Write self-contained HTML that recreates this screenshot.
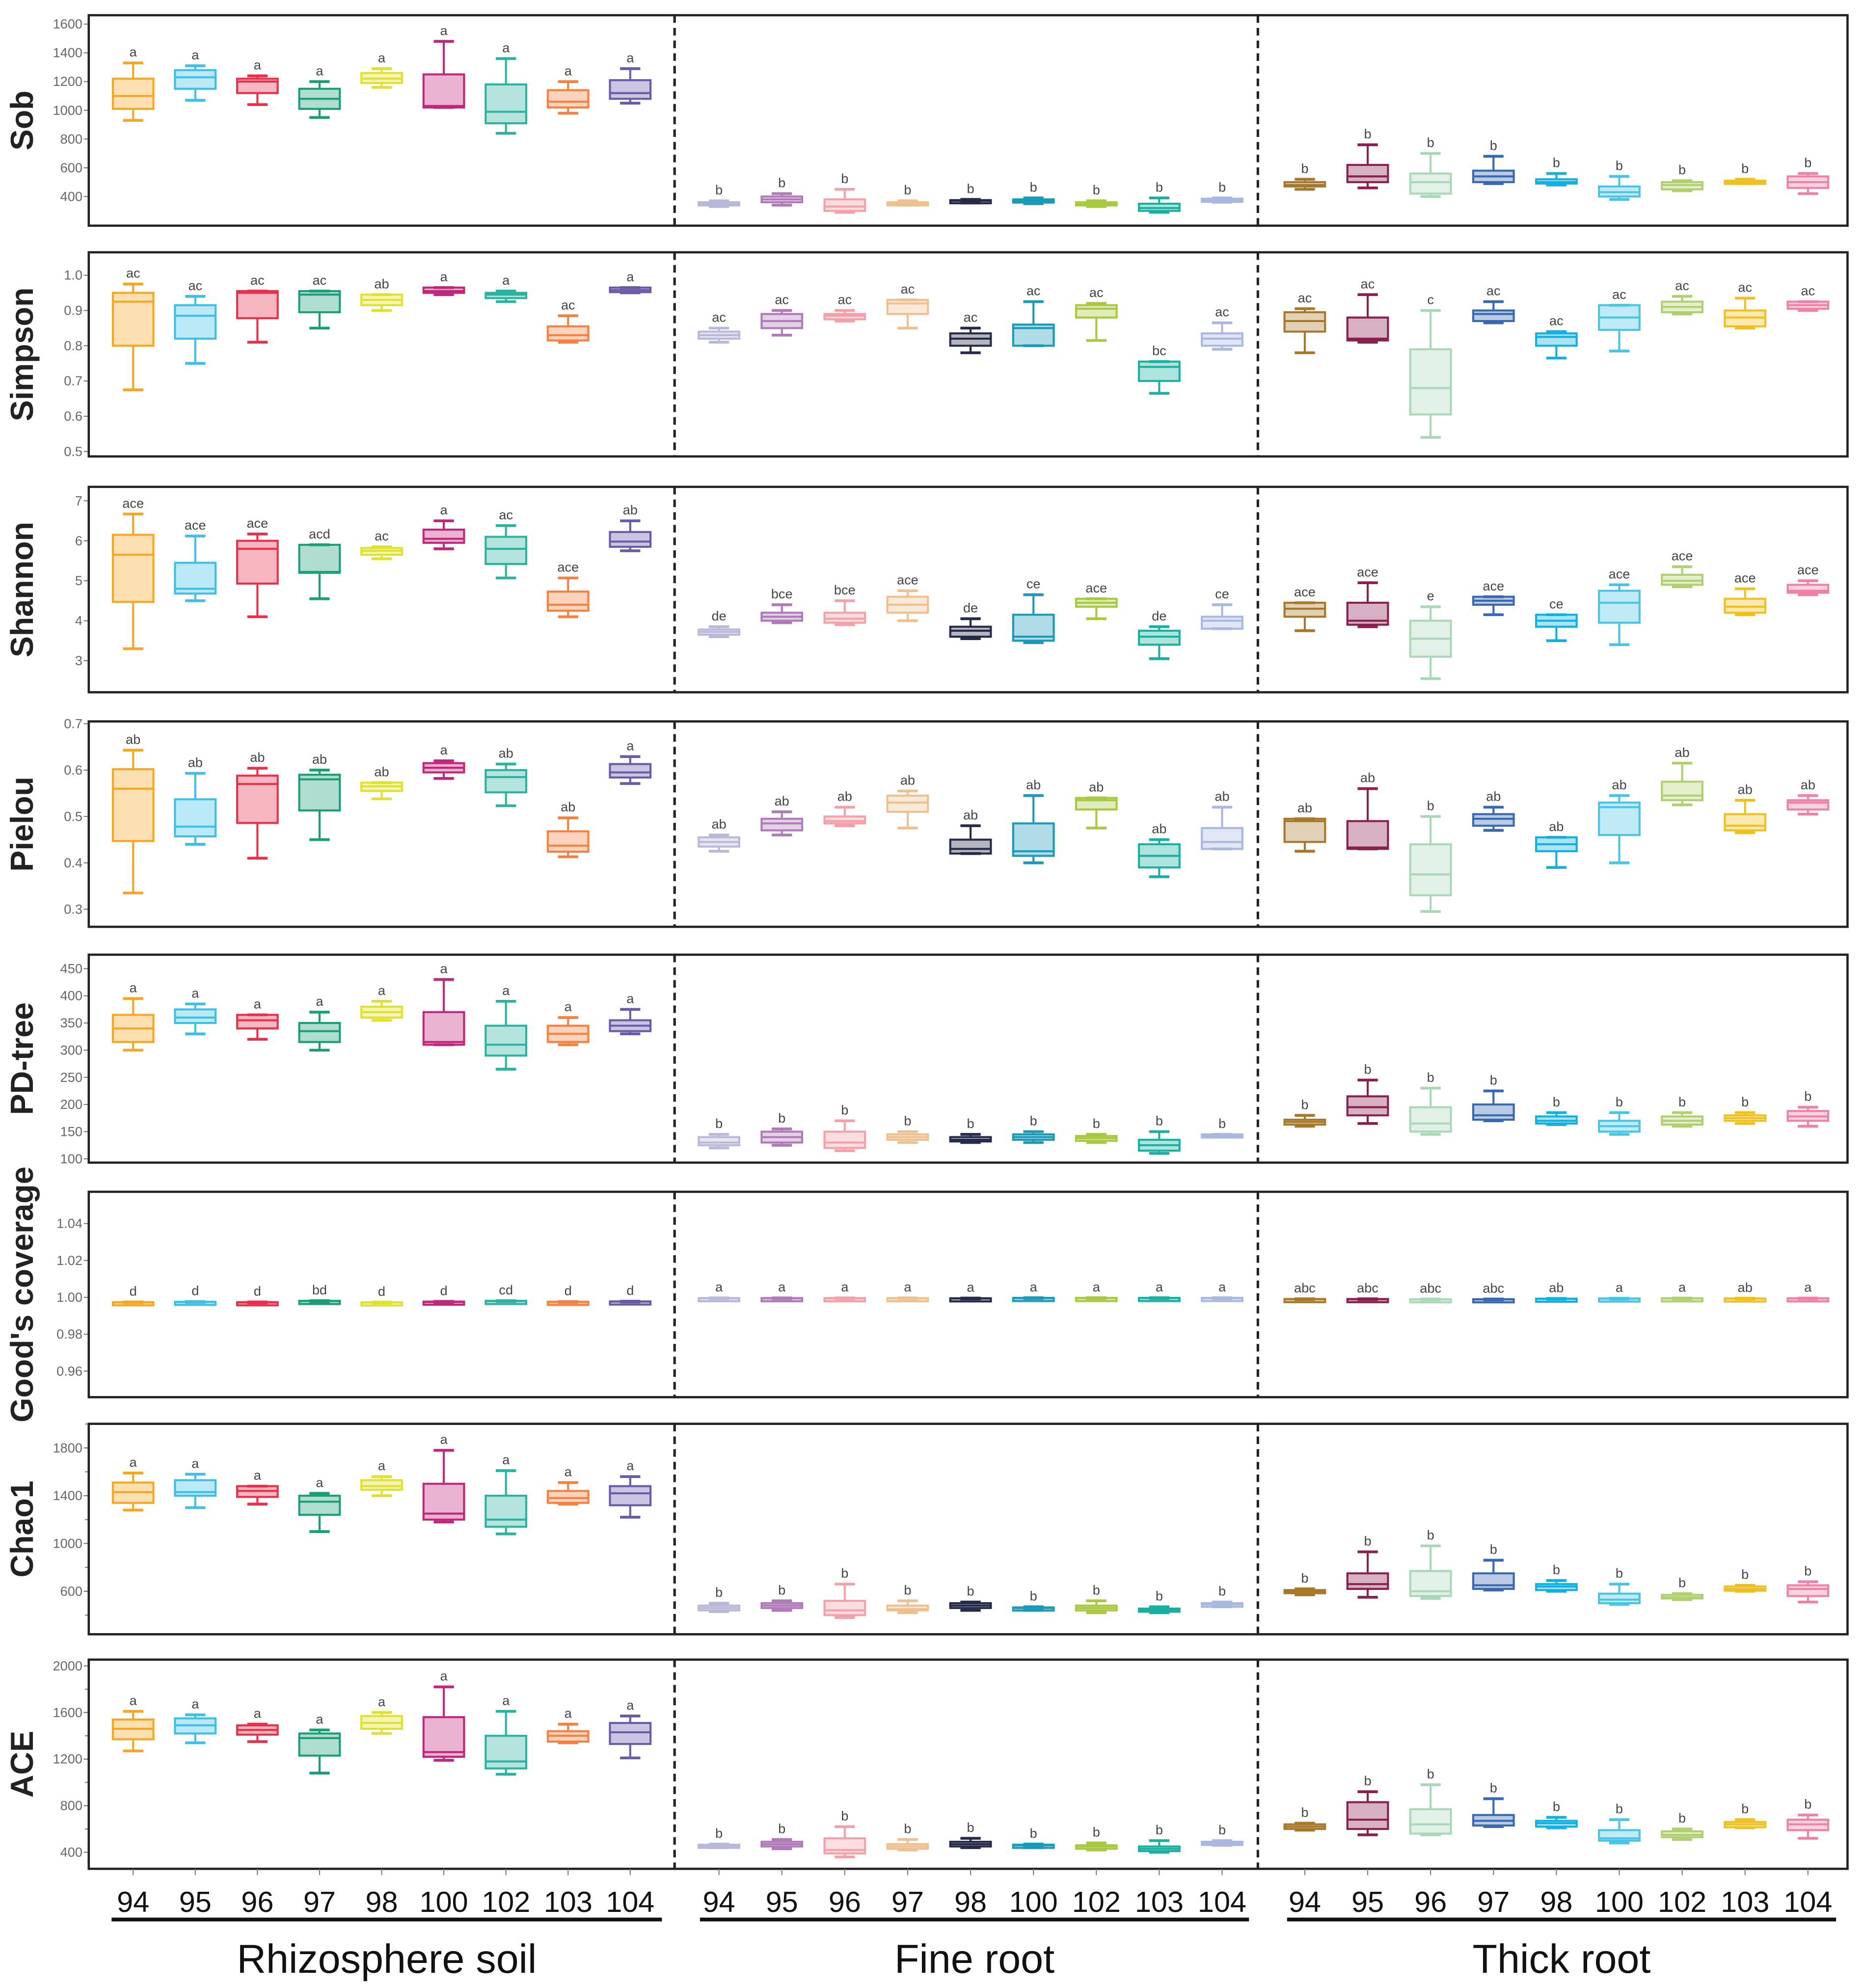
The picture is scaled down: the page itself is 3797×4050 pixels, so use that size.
<!DOCTYPE html>
<html><head><meta charset="utf-8"><title>Alpha diversity boxplots</title>
<style>
html,body{margin:0;padding:0;background:#fff;}
svg{display:block;}
text{font-family:"Liberation Sans",Arial,sans-serif;}
</style></head>
<body>
<svg id="chart" xmlns="http://www.w3.org/2000/svg" width="3797" height="4050" viewBox="0 0 1470 1568" preserveAspectRatio="none"></svg>
<script>
// ---- data ----
const groupNames = ["Rhizosphere soil","Fine root","Thick root"];
const samples = ["94","95","96","97","98","100","102","103","104"];
const metricNames = ["Sob","Simpson","Shannon","Pielou","PD-tree","Good's coverage","Chao1","ACE"];

const sobStats = [
[930,1010,1100,1220,1330],[1070,1150,1230,1280,1310],[1040,1120,1200,1220,1240],[950,1010,1080,1150,1200],[1160,1190,1220,1260,1290],[1020,1020,1030,1250,1480],[840,910,990,1180,1360],[980,1020,1060,1140,1200],[1050,1080,1120,1210,1290],
[330,340,350,360,370],[340,360,380,400,420],[290,300,330,380,450],[340,345,350,360,370],[355,360,370,375,380],[350,360,370,380,390],[330,340,350,360,370],[290,300,320,350,390],[360,365,375,385,390],
[450,470,480,500,520],[460,500,540,620,760],[400,420,500,560,700],[490,500,540,580,680],[480,490,500,520,560],[380,400,430,470,540],[440,450,480,500,510],[490,495,500,510,520],[420,460,500,540,560]];
const sobLetters = ["a","a","a","a","a","a","a","a","a","b","b","b","b","b","b","b","b","b","b","b","b","b","b","b","b","b","b"];

const simpsonStats = [
[0.675,0.80,0.925,0.95,0.975],[0.75,0.82,0.885,0.915,0.94],[0.81,0.878,0.95,0.955,0.955],[0.85,0.895,0.945,0.955,0.955],[0.90,0.915,0.93,0.945,0.945],[0.945,0.95,0.955,0.965,0.965],[0.925,0.935,0.945,0.95,0.955],[0.81,0.815,0.83,0.855,0.885],[0.95,0.952,0.958,0.965,0.965],
[0.81,0.82,0.83,0.84,0.85],[0.83,0.85,0.87,0.89,0.90],[0.87,0.875,0.885,0.89,0.90],[0.85,0.89,0.92,0.93,0.93],[0.78,0.80,0.82,0.835,0.85],[0.80,0.80,0.85,0.86,0.925],[0.815,0.88,0.905,0.915,0.92],[0.665,0.70,0.74,0.755,0.755],[0.79,0.80,0.82,0.835,0.865],
[0.78,0.84,0.87,0.895,0.905],[0.81,0.815,0.82,0.88,0.945],[0.54,0.605,0.68,0.79,0.90],[0.865,0.87,0.89,0.90,0.925],[0.765,0.80,0.825,0.835,0.84],[0.785,0.845,0.88,0.915,0.915],[0.89,0.895,0.91,0.925,0.94],[0.85,0.855,0.88,0.90,0.935],[0.90,0.905,0.915,0.925,0.925]];
const simpsonLetters = ["ac","ac","ac","ac","ab","a","a","ac","a","ac","ac","ac","ac","ac","ac","ac","bc","ac","ac","ac","c","ac","ac","ac","ac","ac","ac"];

const shannonStats = [
[3.3,4.47,5.65,6.15,6.67],[4.5,4.68,4.8,5.45,6.12],[4.1,4.93,5.8,6.0,6.17],[4.55,5.2,5.22,5.9,5.9],[5.55,5.65,5.75,5.82,5.85],[5.8,5.95,6.05,6.28,6.5],[5.07,5.42,5.8,6.1,6.38],[4.1,4.25,4.4,4.73,5.07],[5.75,5.85,5.98,6.22,6.5],
[3.6,3.65,3.72,3.78,3.85],[3.95,4.0,4.1,4.2,4.4],[3.9,3.95,4.05,4.2,4.5],[4.0,4.2,4.4,4.6,4.75],[3.55,3.6,3.75,3.85,4.05],[3.45,3.5,3.6,4.15,4.65],[4.05,4.35,4.45,4.55,4.55],[3.05,3.4,3.6,3.75,3.85],[3.8,3.8,4.0,4.1,4.4],
[3.75,4.1,4.3,4.45,4.45],[3.85,3.9,4.0,4.45,4.95],[2.55,3.1,3.55,4.0,4.35],[4.15,4.4,4.5,4.6,4.6],[3.5,3.85,4.0,4.15,4.15],[3.4,3.95,4.45,4.75,4.9],[4.85,4.9,5.0,5.15,5.35],[4.15,4.2,4.35,4.55,4.8],[4.65,4.7,4.75,4.9,5.0]];
const shannonLetters = ["ace","ace","ace","acd","ac","a","ac","ace","ab","de","bce","bce","ace","de","ce","ace","de","ce","ace","ace","e","ace","ce","ace","ace","ace","ace"];

const pielouStats = [
[0.335,0.447,0.56,0.602,0.643],[0.44,0.457,0.478,0.537,0.593],[0.41,0.486,0.57,0.588,0.604],[0.45,0.513,0.58,0.59,0.60],[0.538,0.555,0.565,0.573,0.573],[0.582,0.595,0.605,0.615,0.62],[0.523,0.552,0.585,0.60,0.613],[0.413,0.424,0.437,0.468,0.497],[0.571,0.584,0.595,0.613,0.629],
[0.425,0.435,0.445,0.455,0.46],[0.46,0.47,0.485,0.495,0.51],[0.48,0.485,0.49,0.50,0.52],[0.475,0.51,0.53,0.545,0.555],[0.42,0.42,0.43,0.45,0.48],[0.40,0.415,0.425,0.485,0.545],[0.475,0.515,0.535,0.54,0.54],[0.37,0.39,0.415,0.44,0.45],[0.43,0.43,0.445,0.475,0.52],
[0.425,0.445,0.49,0.495,0.495],[0.43,0.43,0.433,0.49,0.56],[0.295,0.33,0.375,0.44,0.50],[0.47,0.48,0.495,0.505,0.52],[0.39,0.425,0.44,0.455,0.455],[0.40,0.46,0.52,0.53,0.545],[0.525,0.535,0.545,0.575,0.615],[0.465,0.47,0.48,0.505,0.535],[0.505,0.515,0.53,0.535,0.545]];
const pielouLetters = ["ab","ab","ab","ab","ab","a","ab","ab","a","ab","ab","ab","ab","ab","ab","ab","ab","ab","ab","ab","b","ab","ab","ab","ab","ab","ab"];

const pdStats = [
[300,315,340,365,395],[330,350,360,375,385],[320,340,355,365,365],[300,315,335,350,370],[355,360,370,380,390],[310,310,315,370,430],[265,290,310,345,390],[310,315,330,345,360],[330,335,345,355,375],
[120,125,130,140,145],[125,130,140,150,155],[115,120,130,150,170],[130,135,140,145,150],[130,132,135,140,145],[130,135,140,145,150],[130,133,138,142,145],[110,115,125,135,150],[140,140,142,145,145],
[160,163,168,172,180],[165,180,195,215,245],[145,150,165,195,230],[170,172,180,200,225],[163,165,170,178,185],[145,150,160,170,185],[160,163,170,178,185],[165,170,175,180,185],[160,170,178,188,195]];
const pdLetters = ["a","a","a","a","a","a","a","a","a","b","b","b","b","b","b","b","b","b","b","b","b","b","b","b","b","b","b"];

const goodsStats = [
[0.9971,0.9972,0.9973,0.9974,0.9975],[0.9973,0.9974,0.9975,0.9976,0.9977],[0.9970,0.9971,0.9972,0.9974,0.9975],[0.9977,0.9978,0.9980,0.9981,0.9982],[0.9970,0.9971,0.9972,0.9973,0.9974],[0.9972,0.9973,0.9975,0.9977,0.9978],[0.9978,0.9979,0.9980,0.9981,0.9982],[0.9973,0.9974,0.9975,0.9976,0.9977],[0.9975,0.9976,0.9977,0.9978,0.9979],
[0.9993,0.9994,0.9995,0.9996,0.9997],[0.9993,0.9994,0.9995,0.9996,0.9997],[0.9993,0.9994,0.9995,0.9996,0.9997],[0.9993,0.9994,0.9995,0.9996,0.9997],[0.9992,0.9993,0.9994,0.9995,0.9996],[0.9994,0.9995,0.9996,0.9997,0.9998],[0.9994,0.9995,0.9996,0.9997,0.9998],[0.9994,0.9995,0.9996,0.9997,0.9998],[0.9994,0.9995,0.9996,0.9997,0.9998],
[0.9988,0.9989,0.9990,0.9991,0.9992],[0.9988,0.9989,0.9990,0.9991,0.9992],[0.9987,0.9988,0.9989,0.9990,0.9991],[0.9987,0.9988,0.9989,0.9990,0.9991],[0.9990,0.9991,0.9992,0.9993,0.9994],[0.9991,0.9992,0.9993,0.9994,0.9995],[0.9992,0.9993,0.9994,0.9995,0.9996],[0.9991,0.9992,0.9993,0.9994,0.9995],[0.9992,0.9993,0.9994,0.9995,0.9996]];
const goodsLetters = ["d","d","d","bd","d","d","cd","d","d","a","a","a","a","a","a","a","a","a","abc","abc","abc","abc","ab","a","a","ab","a"];

const chaoStats = [
[1280,1340,1430,1510,1590],[1300,1400,1430,1530,1580],[1330,1390,1440,1480,1480],[1100,1240,1350,1400,1420],[1400,1450,1480,1530,1560],[1180,1200,1250,1500,1780],[1080,1140,1200,1400,1610],[1330,1340,1380,1440,1510],[1220,1320,1420,1480,1560],
[430,440,460,480,500],[440,460,480,500,520],[380,400,440,520,660],[420,440,450,480,520],[440,460,480,500,510],[440,450,460,465,470],[420,440,460,480,520],[420,430,440,455,470],[470,470,490,500,510],
[570,585,600,610,620],[550,620,660,750,930],[540,560,600,770,980],[610,620,650,750,860],[600,610,640,660,690],[490,500,530,580,660],[530,540,550,570,580],[600,605,620,640,650],[510,560,620,650,680]];
const chaoLetters = ["a","a","a","a","a","a","a","a","a","b","b","b","b","b","b","b","b","b","b","b","b","b","b","b","b","b","b"];

const aceStats = [
[1270,1370,1460,1540,1610],[1340,1420,1490,1550,1580],[1350,1410,1450,1490,1500],[1080,1230,1380,1420,1450],[1420,1460,1510,1570,1600],[1190,1220,1260,1560,1820],[1070,1120,1180,1400,1610],[1340,1350,1400,1440,1500],[1210,1330,1430,1510,1570],
[440,445,455,465,470],[430,450,470,490,510],[360,390,420,520,620],[420,430,450,470,510],[440,450,470,490,520],[440,450,460,465,470],[420,430,450,460,480],[400,410,430,450,500],[460,465,475,490,500],
[590,600,620,640,650],[550,600,680,830,920],[550,560,640,770,980],[620,630,670,720,860],[610,620,650,670,700],[480,500,520,590,680],[510,530,550,580,600],[610,615,640,660,680],[520,590,640,680,720]];
const aceLetters = ["a","a","a","a","a","a","a","a","a","b","b","b","b","b","b","b","b","b","b","b","b","b","b","b","b","b","b"];

const sobTicks = [400,600,800,1000,1200,1400,1600];
const simpsonTicks = [0.5,0.6,0.7,0.8,0.9,1.0];
const shannonTicks = [3,4,5,6,7];
const pielouTicks = [0.3,0.4,0.5,0.6,0.7];
const pdTicks = [100,150,200,250,300,350,400,450];
const goodsTicks = [0.96,0.98,1.00,1.02,1.04];
const chaoTicks = [600,1000,1400,1800];
const aceTicks = [400,800,1200,1600,2000];

// ---- layout / style (not data) ----
const colors = ["#f5a623","#3cc0e8","#e8304a","#1a9e77","#e0e030","#c0267a","#2ab3a0","#f58040","#6a5aa8",
"#b8b8d8","#b07ab8","#f5a0a8","#eec090","#252a48","#1a9ab8","#a8c840","#18b0a0","#a8b8e0",
"#a8782a","#8a2050","#a8d8b8","#3868b0","#10b0e0","#48c4e4","#b0d070","#f0c020","#f080a8"];
const rows = [
 {stats:sobStats,letters:sobLetters,ticks:sobTicks,top:12,bot:178,d0:197,d1:1662,fmt:v=>String(v),minor:null},
 {stats:simpsonStats,letters:simpsonLetters,ticks:simpsonTicks,top:199,bot:360,d0:0.486,d1:1.065,fmt:v=>v.toFixed(1),minor:null},
 {stats:shannonStats,letters:shannonLetters,ticks:shannonTicks,top:384,bot:546,d0:2.21,d1:7.35,fmt:v=>String(v),minor:null},
 {stats:pielouStats,letters:pielouLetters,ticks:pielouTicks,top:569,bot:731,d0:0.262,d1:0.705,fmt:v=>v.toFixed(1),minor:null},
 {stats:pdStats,letters:pdLetters,ticks:pdTicks,top:753,bot:917,d0:93,d1:475.7,fmt:v=>String(v),minor:null},
 {stats:goodsStats,letters:goodsLetters,ticks:goodsTicks,top:940,bot:1102,d0:0.9459,d1:1.0572,fmt:v=>v.toFixed(2),minor:null},
 {stats:chaoStats,letters:chaoLetters,ticks:chaoTicks,top:1123,bot:1289,d0:240,d1:2002,fmt:v=>String(v),minor:200},
 {stats:aceStats,letters:aceLetters,ticks:aceTicks,top:1309,bot:1474,d0:258,d1:2054,fmt:v=>String(v),minor:200}
];
const L=70,R=1457,dash1=532,dash2=992, groupStart=[105,567,1029], steps=[49.0,49.6,49.6], bw=32;
const NS="http://www.w3.org/2000/svg";
const svg=document.getElementById('chart');
function mk(tag,attrs,parent){const e=document.createElementNS(NS,tag);for(const k in attrs)e.setAttribute(k,attrs[k]);(parent||svg).appendChild(e);return e;}
function xPos(i){const g=Math.floor(i/9);return groupStart[g]+(i%9)*steps[g];}

rows.forEach((r,ri)=>{
  const g=mk('g',{});
  
  
  const y=v=>r.bot-(v-r.d0)/(r.d1-r.d0)*(r.bot-r.top);
  if(r.minor){
    for(let v=r.ticks[0]-r.minor*Math.floor((r.ticks[0]-r.d0)/r.minor); v<=r.d1; v+=r.minor){
      if(y(v)<r.top||y(v)>r.bot) continue;
      const mt=mk('line',{x1:L-3,x2:L,y1:y(v),y2:y(v),stroke:'#777','stroke-width':0.8},g);
      
      
    }
  }
  r.ticks.forEach(v=>{
    const tk=mk('line',{x1:L-4,x2:L,y1:y(v),y2:y(v),stroke:'#777','stroke-width':0.8},g);
    
    
    const t=mk('text',{x:L-5,y:y(v)+3.5,'text-anchor':'end','font-size':10.5,fill:'#666'},g);
    t.textContent=r.fmt(v);
    
    
  });
  const cy=(r.top+r.bot)/2;
  const at=mk('text',{x:0,y:0,transform:`translate(26,${cy}) rotate(-90)`,'text-anchor':'middle','font-size':25,'font-weight':'bold',fill:'#222'},g);
  at.textContent=metricNames[ri];
  
  
  r.stats.forEach((s,i)=>{
    const x=xPos(i), c=colors[i];
    const bg=mk('g',{},g);
    
    
    const sw=1.6;
    mk('line',{x1:x,x2:x,y1:y(s[4]),y2:y(s[3]),stroke:c,'stroke-width':sw},bg);
    mk('line',{x1:x,x2:x,y1:y(s[1]),y2:y(s[0]),stroke:c,'stroke-width':sw},bg);
    mk('line',{x1:x-bw/4,x2:x+bw/4,y1:y(s[4]),y2:y(s[4]),stroke:c,'stroke-width':2.2},bg);
    mk('line',{x1:x-bw/4,x2:x+bw/4,y1:y(s[0]),y2:y(s[0]),stroke:c,'stroke-width':2.2},bg);
    const h=Math.max(y(s[1])-y(s[3]),2.5);
    mk('rect',{x:x-bw/2,y:y(s[3]),width:bw,height:h,fill:c,'fill-opacity':0.35,stroke:c,'stroke-width':sw},bg);
    mk('line',{x1:x-bw/2,x2:x+bw/2,y1:y(s[2]),y2:y(s[2]),stroke:c,'stroke-width':sw},bg);
    const lt=mk('text',{x:x,y:y(s[4])-5,'text-anchor':'middle','font-size':10.5,fill:'#444'},bg);
    lt.textContent=r.letters[i];
    
    
  });
  const fr=mk('rect',{x:L,y:r.top,width:R-L,height:r.bot-r.top,fill:'none',stroke:'#222','stroke-width':1.8},g);
  
  
  [dash1,dash2].forEach(dx=>{
    const dl=mk('line',{x1:dx,x2:dx,y1:r.top,y2:r.bot,stroke:'#222','stroke-width':2,'stroke-dasharray':'6,4'},g);
    
    
  });
});
for(let i=0;i<27;i++){
  const x=xPos(i);
  const xt=mk('line',{x1:x,x2:x,y1:1474,y2:1479,stroke:'#777','stroke-width':0.8});
  
  
  const t=mk('text',{x:x,y:1508,'text-anchor':'middle','font-size':23,fill:'#111'});
  t.textContent=samples[i%9];
  
  
}
groupNames.forEach((n,gi)=>{
  const x0=[88,552,1015][gi], x1=[522,985,1448][gi];
  const ul=mk('line',{x1:x0,x2:x1,y1:1514,y2:1514,stroke:'#111','stroke-width':3});
  
  
  const t=mk('text',{x:(x0+x1)/2,y:1556,'text-anchor':'middle','font-size':32,fill:'#111'});
  t.textContent=n;
  
  
});
</script>
</body></html>
